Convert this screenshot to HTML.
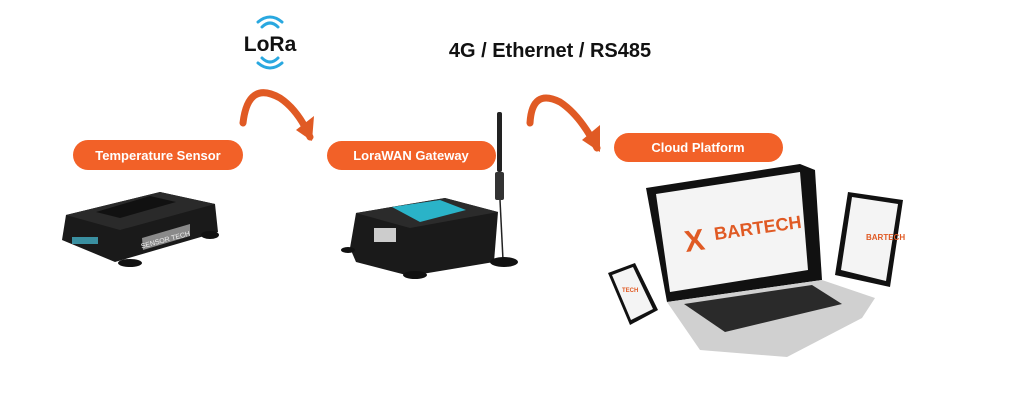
<!DOCTYPE html>
<html><head><meta charset="utf-8"><style>
body{margin:0;background:#fff;width:1024px;height:401px;overflow:hidden;font-family:"Liberation Sans",sans-serif}
</style></head><body>
<svg width="1024" height="401" viewBox="0 0 1024 401" xmlns="http://www.w3.org/2000/svg">
<!-- LoRa -->
<g fill="none" stroke="#29a8e0" stroke-width="3" stroke-linecap="round">
<path d="M262 27 Q270 19 278 27"/><path d="M258 22 Q270 12 282 22"/>
<path d="M262 58 Q270 66 278 58"/><path d="M258 63 Q270 73 282 63"/>
</g>
<text x="270" y="51" text-anchor="middle" font-size="21" font-weight="bold" fill="#111">LoRa</text>
<text x="550" y="57" text-anchor="middle" font-size="20" font-weight="bold" fill="#111">4G / Ethernet / RS485</text>
<!-- arrows -->
<g fill="none" stroke="#e05a24" stroke-width="7" stroke-linecap="round">
<path d="M243 123 Q248 80 280 98 Q298 110 310 137"/>
<path d="M530 123 Q532 88 560 102 Q580 115 597 148"/>
</g>
<polygon points="296,130 312,141 314,116" fill="#e05a24"/>
<polygon points="582,140 600,152 600,125" fill="#e05a24"/>
<!-- pills -->
<g fill="#f26128">
<rect x="73" y="140" width="170" height="30" rx="15"/>
<rect x="327" y="141" width="169" height="29" rx="14.5"/>
<rect x="614" y="133" width="169" height="29" rx="14.5"/>
</g>
<g fill="#fff" font-size="13" font-weight="bold" text-anchor="middle">
<text x="158" y="160">Temperature Sensor</text>
<text x="411" y="160">LoraWAN Gateway</text>
<text x="698" y="152">Cloud Platform</text>
</g>
<!-- sensor -->
<polygon points="62,240 66,215 160,192 215,204 218,232 115,262" fill="#1a1a1a"/>
<polygon points="66,215 160,192 215,204 120,230" fill="#2a2a2a"/>
<polygon points="96,212 150,196 176,202 120,218" fill="#111"/>
<polygon points="142,238 190,224 190,236 143,250" fill="#8a8a8a"/>
<text x="166" y="242" font-size="7" fill="#eee" text-anchor="middle" transform="rotate(-15 166 242)">SENSOR TECH</text>
<rect x="72" y="237" width="26" height="7" fill="#3a8fa0"/>
<ellipse cx="210" cy="235" rx="9" ry="4" fill="#111"/>
<ellipse cx="130" cy="263" rx="12" ry="4" fill="#111"/>
<!-- gateway -->
<polygon points="350,248 356,213 445,198 498,212 494,262 410,276 356,262" fill="#1a1a1a"/>
<polygon points="356,213 445,198 498,212 410,228" fill="#2b2b2b"/>
<polygon points="392,207 440,200 466,210 420,222" fill="#2ab3c8"/>
<rect x="374" y="228" width="22" height="14" fill="#ccc"/>
<ellipse cx="348" cy="250" rx="7" ry="3" fill="#111"/>
<ellipse cx="415" cy="275" rx="12" ry="4" fill="#111"/>
<rect x="497" y="112" width="5" height="60" rx="2" fill="#222"/>
<rect x="495" y="172" width="9" height="28" rx="2" fill="#333"/>
<line x1="500" y1="200" x2="503" y2="260" stroke="#222" stroke-width="1.5"/>
<ellipse cx="504" cy="262" rx="14" ry="5" fill="#111"/>
<!-- laptop -->
<polygon points="646,188 800,164 815,170 822,280 667,302" fill="#111"/>
<polygon points="656,194 800,172 808,270 670,292" fill="#f4f4f4"/>
<text x="715" y="240" font-size="18" font-weight="bold" fill="#e05a24" transform="rotate(-8 715 240)">BARTECH</text>
<text x="686" y="252" font-size="30" font-weight="bold" fill="#e05a24" transform="rotate(-8 686 252)">X</text>
<polygon points="667,302 822,280 875,298 862,318 787,357 700,350" fill="#d0d0d0"/>
<polygon points="684,304 812,285 842,304 725,332" fill="#2a2a2a"/>
<!-- tablet -->
<polygon points="848,192 903,200 890,287 835,275" fill="#111"/>
<polygon points="852,197 898,204 886,281 841,270" fill="#f4f4f4"/>
<text x="866" y="240" font-size="8" font-weight="bold" fill="#e05a24">BARTECH</text>
<!-- phone -->
<polygon points="608,273 635,263 658,310 630,325" fill="#111"/>
<polygon points="612,275 633,267 653,309 631,320" fill="#f4f4f4"/>
<text x="622" y="292" font-size="6" font-weight="bold" fill="#e05a24">TECH</text>
</svg>
</body></html>
